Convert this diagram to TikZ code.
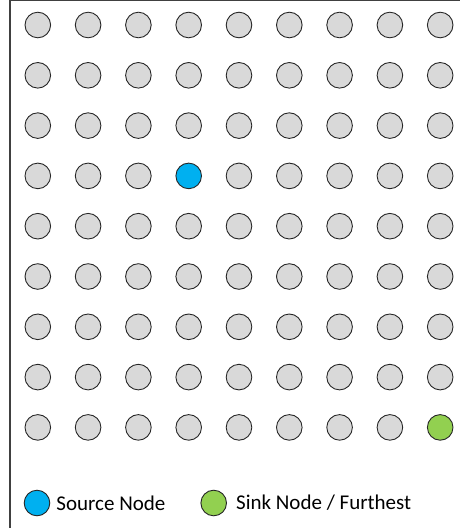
\documentclass[tikz,border=0pt]{standalone}
\usepackage{fontspec}
\setmainfont{Carlito}
\usepackage{xcolor}
\usepackage{tikz}
\usetikzlibrary{positioning}

\definecolor{grigio}{HTML}{D9D9D9}
\definecolor{srcblue}{HTML}{00B0F0}
\definecolor{sinkgreen}{HTML}{92D050}

\begin{document}
\begin{tikzpicture}[
      x=1pt, y=-1pt,
      dot/.style={circle, draw=black!85, line width=0.9pt, minimum size=25.6pt, inner sep=0pt, fill=grigio},
      lbl/.style={font=\fontsize{21}{25}\selectfont, inner sep=0pt, anchor=west},
      frame_line/.style={draw=black!75, line width=1.3pt}
    ]
    \useasboundingbox (0,0) rectangle (460,528);

    % Cornice
    \draw[frame_line] (460,0.6) -| (10,528);

    % Griglia di nodi
    \foreach \i in {1,...,9}
      \foreach \j in {1,...,9} {
        \def\col{grigio}
        \ifnum\i\j=44 \def\col{srcblue}\fi
        \ifnum\i\j=99 \def\col{sinkgreen}\fi
        \node[dot, fill=\col] (n\i\j) at ({37.8+50.3*(\i-1)}, {25+50.3*(\j-1)}) {};
      }

    % Legenda
    \node[dot, fill=srcblue] (legsrc) at (37,503) {};
    \node[lbl, right=6pt of legsrc] (legsrc_txt) {Source Node};
    \node[dot, fill=sinkgreen] (legsink) at (213.7,503) {};
    \node[lbl, right=9pt of legsink] (legsink_txt) {Sink Node / Furthest};
  \end{tikzpicture}
\end{document}
